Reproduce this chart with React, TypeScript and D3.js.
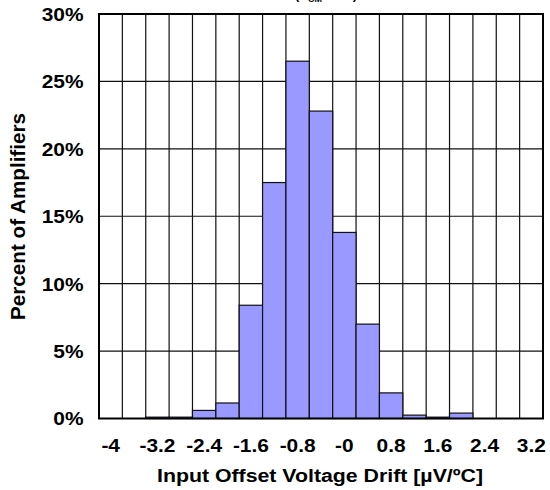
import React from "react";
import * as d3 from "d3";

const binStarts = [-4, -3.6, -3.2, -2.8, -2.4, -2.0, -1.6, -1.2, -0.8, -0.4, 0, 0.4, 0.8, 1.2, 1.6, 2.0, 2.4, 2.8, 3.2];
const percents = [0, 0, 0.1, 0.1, 0.6, 1.15, 8.4, 17.5, 26.5, 22.8, 13.8, 7.0, 1.9, 0.25, 0.1, 0.4, 0, 0, 0];
const xTickValues = [-4, -3.2, -2.4, -1.6, -0.8, 0, 0.8, 1.6, 2.4, 3.2];
const xTickLabels = ["-4", "-3.2", "-2.4", "-1.6", "-0.8", "-0", "0.8", "1.6", "2.4", "3.2"];
const yTickValues = [0, 5, 10, 15, 20, 25, 30];
const yTickLabels = ["0%", "5%", "10%", "15%", "20%", "25%", "30%"];
const binWidth = 0.4;

const W = 550;
const H = 490;
const left = 99;
const right = 543;
const top = 14;
const bottom = 418.5;
const FONT = "'Liberation Sans', Arial, sans-serif";
const FS = 19;
const SX = 1.1;

export default function App() {
  const x = d3.scaleLinear().domain([-4, 3.6]).range([left, right]);
  const y = d3.scaleLinear().domain([0, 30]).range([bottom, top]);
  const gridX = binStarts.concat([3.6]);
  return (
    <svg width={W} height={H} style={{ position: "absolute", left: 0, top: 0, background: "#fff" }} fontFamily={FONT}>
      <rect x={0} y={0} width={W} height={H} fill="#fff" />
      {/* clipped subtitle line, as in the reference */}
      <text x={326} y={-1.5} textAnchor="middle" fontSize={13} fontWeight="bold" fill="#000">
        (V<tspan fontSize={9} dy={3}>CM</tspan><tspan dy={-3}> = 0V)</tspan>
      </text>
      {/* horizontal gridlines */}
      {yTickValues.map((v) => (
        <line key={"hy" + v} x1={left} x2={right} y1={y(v)} y2={y(v)} stroke="#111" strokeWidth={1.2} />
      ))}
      {/* vertical gridlines */}
      {gridX.map((v, i) => (
        <line key={"gx" + i} x1={x(v)} x2={x(v)} y1={top} y2={bottom} stroke="#111" strokeWidth={1.2} />
      ))}
      {/* bars */}
      {binStarts.map((b, i) =>
        percents[i] > 0 ? (
          <rect
            key={"b" + i}
            x={x(b)}
            y={y(percents[i])}
            width={x(b + binWidth) - x(b)}
            height={y(0) - y(percents[i])}
            fill="#9999FF"
            stroke="#111"
            strokeWidth={1.2}
          />
        ) : null
      )}
      {/* plot border */}
      <rect x={left} y={top} width={right - left} height={bottom - top} fill="none" stroke="#000" strokeWidth={2} />
      {/* y tick labels */}
      {yTickValues.map((v, i) => (
        <text
          key={"yl" + v}
          transform={`translate(83.5, ${y(v) + FS * 0.36}) scale(${SX}, 1)`}
          textAnchor="end"
          fontSize={FS}
          fontWeight="bold"
          fill="#000"
        >
          {yTickLabels[i]}
        </text>
      ))}
      {/* x tick labels */}
      {xTickValues.map((v, i) => (
        <text
          key={"xl" + i}
          transform={`translate(${x(v + binWidth / 2)}, 452.3) scale(${SX}, 1)`}
          textAnchor="middle"
          fontSize={FS}
          fontWeight="bold"
          fill="#000"
        >
          {xTickLabels[i]}
        </text>
      ))}
      {/* axis titles */}
      <text
        x={320}
        y={481.7}
        textAnchor="middle"
        fontSize={18.7}
        fontWeight="bold"
        fill="#000"
        textLength={326}
        lengthAdjust="spacingAndGlyphs"
      >
        Input Offset Voltage Drift [µV/ºC]
      </text>
      <text
        transform={`translate(25, 216.5) rotate(-90)`}
        textAnchor="middle"
        fontSize={19.5}
        fontWeight="bold"
        fill="#000"
        textLength={207}
        lengthAdjust="spacingAndGlyphs"
      >
        Percent of Amplifiers
      </text>
    </svg>
  );
}
